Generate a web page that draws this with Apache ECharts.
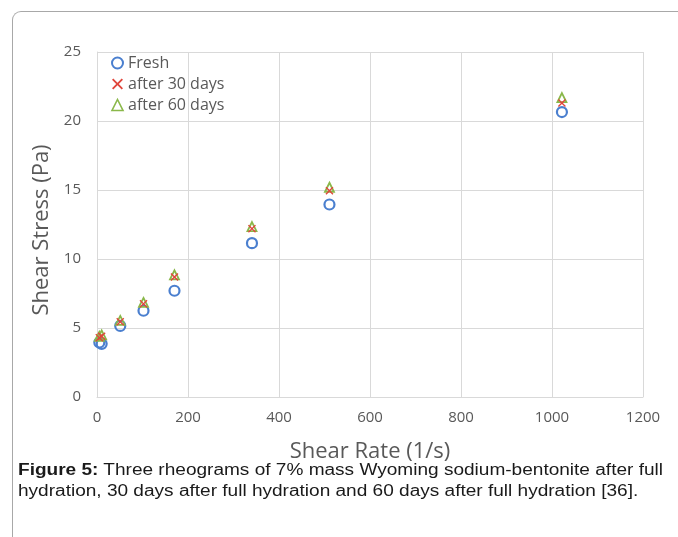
<!DOCTYPE html>
<html>
<head>
<meta charset="utf-8">
<script src="https://cdn.jsdelivr.net/npm/echarts@6/dist/echarts.min.js"></script>
<style>
  html,body{margin:0;padding:0;background:#fff;}
  #wrap{position:relative;width:678px;height:537px;overflow:hidden;}
  #frame{position:absolute;left:12px;top:11px;width:700px;height:560px;border-left:1.5px solid #a8a8a8;border-top:1.5px solid #a8a8a8;border-top-left-radius:9px;}
  #chart{position:absolute;left:0;top:0;width:678px;height:537px;}
  #cap{position:absolute;left:18px;top:459px;width:560px;font-family:"Liberation Sans",Arial,sans-serif;font-size:16px;line-height:21px;color:#1a1a1a;white-space:nowrap;transform:scaleX(1.19);transform-origin:0 0;}
</style>
</head>
<body>
<div id="wrap">
  <div id="frame"></div>
  <div id="chart"></div>
  <div id="cap"><b>Figure 5:</b> Three rheograms of 7% mass Wyoming sodium-bentonite after full<br>hydration, 30 days after full hydration and 60 days after full hydration [36].</div>
</div>
<script>
// Shear rate (1/s)
const shearRate = [5.11, 10.22, 51.1, 102.2, 170.3, 340.6, 510.9, 1021.8];
// Shear stress (Pa)
const fresh   = [3.95, 3.85, 5.15, 6.25, 7.7, 11.15, 13.95, 20.65];
const days30  = [4.3, 4.4, 5.45, 6.75, 8.7, 12.2, 14.95, 21.3];
const days60  = [4.4, 4.5, 5.55, 6.85, 8.85, 12.35, 15.2, 21.7];
const seriesNames = ['Fresh', 'after 30 days', 'after 60 days'];
const xTicks = [0, 200, 400, 600, 800, 1000, 1200];
const yTicks = [0, 5, 10, 15, 20, 25];

const pairs = ys => shearRate.map((x, i) => [x, ys[i]]);
const xPath = 'path://M0,1.2L1.2,0L5,3.8L8.8,0L10,1.2L6.2,5L10,8.8L8.8,10L5,6.2L1.2,10L0,8.8L3.8,5Z';
const FONT = 'Open Sans';
const GRID = '#d9d9d9';
const TXT = '#595959';

const chart = echarts.init(document.getElementById('chart'), null, {renderer: 'canvas'});
chart.setOption({
  animation: false,
  backgroundColor: 'transparent',
  grid: {left: 97, right: 35, top: 52, bottom: 140, containLabel: false},
  xAxis: {
    type: 'value', min: xTicks[0], max: xTicks[xTicks.length - 1], interval: 200,
    name: 'Shear Rate (1/s)', nameLocation: 'middle', nameGap: 44,
    nameTextStyle: {fontFamily: FONT, fontSize: 22, color: TXT},
    axisLine: {show: true, lineStyle: {color: GRID, width: 1}},
    axisTick: {show: false},
    axisLabel: {fontFamily: FONT, fontSize: 15, color: TXT, margin: 13, formatter: v => String(v)},
    splitLine: {show: true, lineStyle: {color: GRID, width: 1}}
  },
  yAxis: {
    type: 'value', min: yTicks[0], max: yTicks[yTicks.length - 1], interval: 5,
    name: 'Shear Stress (Pa)', nameLocation: 'middle', nameGap: 41,
    nameTextStyle: {fontFamily: FONT, fontSize: 22, color: TXT, padding: [0, 11, 0, 0]},
    axisLine: {show: true, lineStyle: {color: GRID, width: 1}},
    axisTick: {show: false},
    axisLabel: {fontFamily: FONT, fontSize: 15, color: TXT, margin: 16, formatter: v => String(v)},
    splitLine: {show: true, lineStyle: {color: GRID, width: 1}}
  },
  legend: {
    left: 106, top: 50, orient: 'vertical', itemGap: 5, itemWidth: 11, itemHeight: 11,
    textStyle: {fontFamily: FONT, fontSize: 16, color: TXT},
    data: [
      {name: seriesNames[0], icon: 'circle', itemStyle: {color: '#fff', borderColor: '#4a7fcf', borderWidth: 2}},
      {name: seriesNames[1], icon: xPath, itemStyle: {color: '#e0463c', borderWidth: 0}},
      {name: seriesNames[2], icon: 'triangle', itemStyle: {color: '#fff', borderColor: '#8ab84a', borderWidth: 1.6}}
    ]
  },
  series: [
    {name: seriesNames[0], type: 'scatter', data: pairs(fresh), symbol: 'circle', symbolSize: 10, z: 2,
     itemStyle: {color: 'rgba(255,255,255,0)', borderColor: '#4a7fcf', borderWidth: 2.2, opacity: 1}},
    {name: seriesNames[2], type: 'scatter', data: pairs(days60), symbol: 'triangle', symbolSize: 9, z: 3,
     itemStyle: {color: 'rgba(255,255,255,0)', borderColor: '#8ab84a', borderWidth: 1.8, opacity: 1}},
    {name: seriesNames[1], type: 'scatter', data: pairs(days30), symbol: xPath, symbolSize: 8, z: 4,
     itemStyle: {color: '#e0463c', opacity: 1}}
  ]
});
</script>
</body>
</html>
